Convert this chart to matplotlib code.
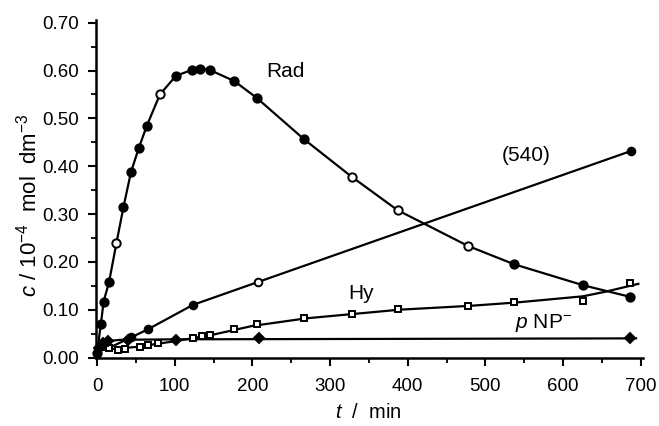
import matplotlib
matplotlib.use('Agg')
import matplotlib.pyplot as plt
from matplotlib.ticker import MultipleLocator, FormatStrFormatter

plt.rcParams['font.family'] = ['Liberation Sans', 'DejaVu Sans']
plt.rcParams['mathtext.fontset'] = 'custom'
plt.rcParams['mathtext.rm'] = 'Liberation Sans'
plt.rcParams['mathtext.it'] = 'Liberation Sans:italic'

# Rad (radical), measured points; open = hollow marker
rad_t = [0, 5, 8.5, 15.4, 25, 34, 43.8, 53.6, 64, 81, 101.7, 121.8, 132.6, 145.4,
         176.7, 205.5, 266.8, 327.8, 387, 478, 537, 626, 686]
rad_c = [0.01, 0.07, 0.117, 0.157, 0.239, 0.314, 0.388, 0.437, 0.484, 0.550, 0.589,
         0.601, 0.604, 0.601, 0.578, 0.543, 0.456, 0.378, 0.308, 0.233, 0.195, 0.151, 0.127]
rad_open = [False, False, False, False, True, False, False, False, False, True, False,
            False, False, False, False, False, False, True, True, True, False, False, False]

# absorbance at 540 nm
a540_t = [44, 65.6, 123.5, 207.6, 688]
a540_c = [0.042, 0.059, 0.110, 0.158, 0.432]
a540_open = [False, False, False, True, False]
a540_line_t = [0, 14, 44, 65.6, 123.5, 207.6, 688]
a540_line_c = [0.012, 0.019, 0.042, 0.059, 0.110, 0.158, 0.432]

# Hy
hy_t = [16, 27, 36, 55, 66, 79, 124, 135, 145, 176, 206, 267, 328, 387, 478, 537, 626, 686]
hy_c = [0.020, 0.016, 0.017, 0.022, 0.026, 0.031, 0.040, 0.044, 0.047, 0.060, 0.070,
        0.082, 0.091, 0.101, 0.108, 0.115, 0.119, 0.155]
hy_line_t = [0, 50, 100, 150, 200, 270, 330, 390, 480, 540, 626, 656, 697]
hy_line_c = [0.015, 0.022, 0.034, 0.048, 0.066, 0.082, 0.091, 0.100, 0.108, 0.115,
             0.128, 0.138, 0.154]

# p-nitrophenolate
pnp_t = [3, 8, 14, 40, 102, 208, 686]
pnp_c = [0.02, 0.03, 0.035, 0.037, 0.037, 0.040, 0.040]
pnp_line_t = [0, 5, 12, 30, 100, 694]
pnp_line_c = [0.005, 0.025, 0.034, 0.037, 0.038, 0.040]

fig = plt.figure(figsize=(6.59, 4.26), dpi=100)
ax = fig.add_axes([96/659, 1-357.5/426, 547/659, 337.2/426])

lw = 1.6
ax.plot(rad_t, rad_c, '-', color='black', lw=lw, clip_on=False)
ax.plot(a540_line_t, a540_line_c, '-', color='black', lw=lw, clip_on=False)
ax.plot(hy_line_t, hy_line_c, '-', color='black', lw=lw, clip_on=False)
ax.plot(pnp_line_t, pnp_line_c, '-', color='black', lw=lw, clip_on=False)


def markers(ts, cs, opens, m, ms):
    for t, c, o in zip(ts, cs, opens):
        ax.plot([t], [c], m, ms=ms, mec='black', mew=1.4,
                mfc='white' if o else 'black', clip_on=False, zorder=3)


markers(rad_t, rad_c, rad_open, 'o', 6)
markers(a540_t, a540_c, a540_open, 'o', 5.5)
markers(hy_t, hy_c, [True] * len(hy_t), 's', 4.5)
markers(pnp_t, pnp_c, [False] * len(pnp_t), 'D', 5)

ax.text(243, 0.597, 'Rad', fontsize=15, ha='center', va='center')
ax.text(553, 0.423, '(540)', fontsize=15, ha='center', va='center')
ax.text(340, 0.134, 'Hy', fontsize=15, ha='center', va='center')
ax.text(575, 0.072, r'$p$ NP$^{-}$', fontsize=15, ha='center', va='center')

ax.set_xlim(-1.3, 703)
ax.set_ylim(0, 0.705)
ax.xaxis.set_major_locator(MultipleLocator(100))
ax.xaxis.set_minor_locator(MultipleLocator(50))
ax.yaxis.set_major_locator(MultipleLocator(0.1))
ax.yaxis.set_minor_locator(MultipleLocator(0.05))
ax.yaxis.set_major_formatter(FormatStrFormatter('%.2f'))

for s in ['top', 'right']:
    ax.spines[s].set_visible(False)
for s in ['left', 'bottom']:
    ax.spines[s].set_linewidth(1.8)
ax.tick_params(which='major', direction='out', length=6, width=1.5, labelsize=13.5, pad=6)
ax.tick_params(which='minor', direction='out', length=3.5, width=1.3)
ax.tick_params(axis='x', pad=9)

fig.text(29/659, 1-205/426, r'$c$ / 10$^{-4}$  mol  dm$^{-3}$', fontsize=16,
         rotation=90, ha='center', va='center')
fig.text(368/659, 1-412/426, r'$t$  /  min', fontsize=14.5, ha='center', va='center')

fig.savefig('out.png', dpi=100)
